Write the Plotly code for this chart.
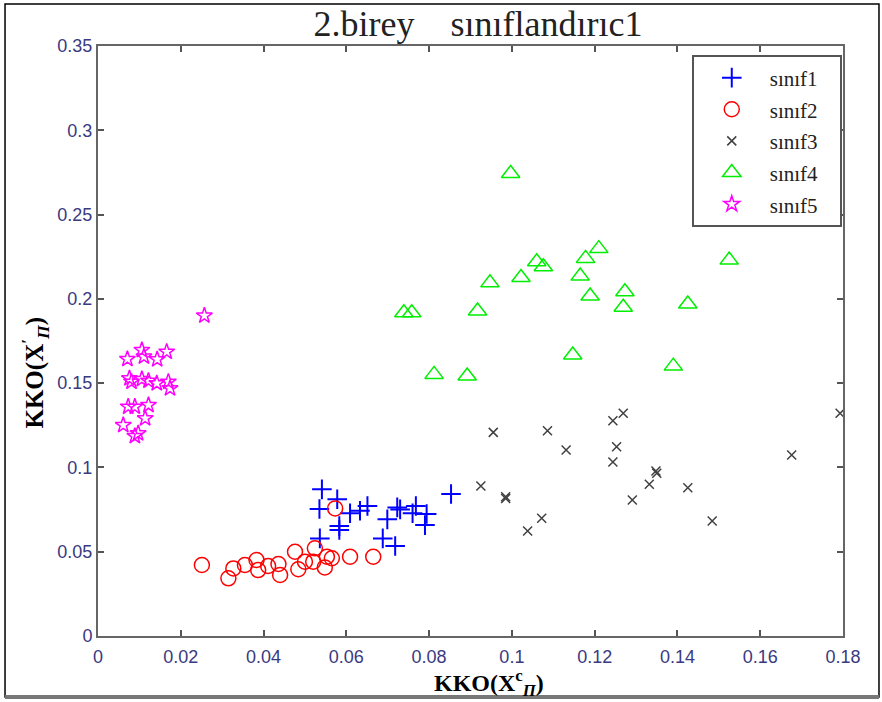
import plotly.graph_objects as go

# sınıf1 (blue +)
s1_x = [0.0541, 0.0578, 0.0535, 0.0609, 0.0633, 0.0651, 0.0583, 0.0583, 0.0536, 0.0699,
        0.0688, 0.0718, 0.0723, 0.0730, 0.0768, 0.0760, 0.0794, 0.0790, 0.0853]
s1_y = [0.0870, 0.0811, 0.0753, 0.0728, 0.0743, 0.0771, 0.0652, 0.0629, 0.0579, 0.0692,
        0.0579, 0.0534, 0.0763, 0.0751, 0.0771, 0.0728, 0.0724, 0.0658, 0.0842]

# sınıf2 (red o)
s2_x = [0.0251, 0.0315, 0.0327, 0.0355, 0.0383, 0.0387, 0.0411, 0.0436, 0.0440, 0.0476,
        0.0484, 0.0500, 0.0524, 0.0520, 0.0553, 0.0548, 0.0565, 0.0609, 0.0665, 0.0573]
s2_y = [0.0421, 0.0342, 0.0401, 0.0421, 0.0451, 0.0391, 0.0415, 0.0427, 0.0362, 0.0500,
        0.0396, 0.0441, 0.0520, 0.0441, 0.0470, 0.0407, 0.0461, 0.0470, 0.0470, 0.0757]

# sınıf3 (gray x)
s3_x = [0.0955, 0.1086, 0.1131, 0.1244, 0.1269, 0.1253, 0.1244, 0.1793, 0.1676, 0.1348,
        0.1350, 0.1332, 0.1425, 0.0925, 0.0985, 0.0985, 0.1291, 0.1072, 0.1038, 0.1484]
s3_y = [0.1208, 0.1218, 0.1103, 0.1277, 0.1321, 0.1123, 0.1032, 0.1321, 0.1074, 0.0979,
        0.0965, 0.0900, 0.0880, 0.0890, 0.0826, 0.0816, 0.0807, 0.0698, 0.0623, 0.0682]

# sınıf4 (green triangles)
s4_x = [0.0997, 0.0812, 0.0892, 0.0739, 0.0758, 0.0917, 0.0947, 0.1022, 0.1060, 0.1076,
        0.1165, 0.1178, 0.1210, 0.1189, 0.1273, 0.1269, 0.1147, 0.1425, 0.1390, 0.1525]
s4_y = [0.2744, 0.1552, 0.1542, 0.1918, 0.1918, 0.1928, 0.2095, 0.2127, 0.2220, 0.2190,
        0.2135, 0.2240, 0.2298, 0.2017, 0.2042, 0.1950, 0.1667, 0.1969, 0.1601, 0.2230]

# sınıf5 (magenta stars)
s5_x = [0.0257, 0.0071, 0.0106, 0.0111, 0.0143, 0.0166, 0.0076, 0.0081, 0.0106, 0.0122,
        0.0142, 0.0170, 0.0174, 0.0073, 0.0089, 0.0122, 0.0114, 0.0061, 0.0089, 0.0097]
s5_y = [0.1900, 0.1643, 0.1696, 0.1657, 0.1641, 0.1686, 0.1528, 0.1508, 0.1524, 0.1514,
        0.1499, 0.1508, 0.1469, 0.1360, 0.1360, 0.1370, 0.1291, 0.1251, 0.1186, 0.1202]

series = [
    ("sınıf1", s1_x, s1_y, "cross-thin-open", "#0000ff", 14, 2),
    ("sınıf2", s2_x, s2_y, "circle-open", "#ff0000", 15, 1.5),
    ("sınıf3", s3_x, s3_y, "x-thin-open", "#404040", 9, 1.5),
    ("sınıf4", s4_x, s4_y, "triangle-up-open", "#00ee00", 16, 1.5),
    ("sınıf5", s5_x, s5_y, "star-open", "#ff00ff", 12, 1.5),
]

fig = go.Figure()
for name, xs, ys, sym, col, size, lw in series:
    fig.add_trace(go.Scatter(
        x=xs, y=ys, mode="markers",
        name="<span style='font-size:21px'>" + name + "</span>\u00a0\u00a0\u00a0",
        marker=dict(symbol=sym, size=size, color=col, line=dict(color=col, width=lw)),
    ))

tickfont = dict(family="Liberation Sans", size=18, color="#3a3a80")
axis_common = dict(
    showgrid=False, zeroline=False, showline=True, linecolor="#666666", linewidth=2,
    mirror="ticks", ticks="inside", ticklen=6, tickcolor="#555555", tickwidth=1.5,
    tickfont=tickfont,
)
fig.update_xaxes(range=[0, 0.18], dtick=0.02, tick0=0, ticklabelstandoff=3, **axis_common)
fig.update_yaxes(range=[0, 0.35], dtick=0.05, tick0=0, **axis_common)

fig.update_layout(
    width=882, height=702,
    margin=dict(l=98, r=39, t=46, b=66),
    paper_bgcolor="white", plot_bgcolor="white",
    title=dict(text="2.birey\u00a0\u00a0\u00a0\u00a0sınıflandırıc1", x=0.542, xanchor="center",
               y=0.967, yanchor="middle",
               font=dict(family="Liberation Serif", size=36, color="#222222")),
    legend=dict(x=0.797, y=0.985, xanchor="left", yanchor="top",
                bgcolor="white", bordercolor="#555555", borderwidth=2,
                font=dict(family="Liberation Serif", size=22, color="#222222"),
                itemwidth=66, tracegroupgap=0),
    showlegend=True,
)

fig.add_annotation(text="<b>KKO(X<sup>c</sup><sub><i>Π</i></sub>)</b>", xref="paper", yref="paper",
                   x=0.525, y=-0.08, xanchor="center", yanchor="middle", showarrow=False,
                   font=dict(family="Liberation Serif", size=24, color="black"))
fig.add_annotation(text="<b>KKO(X<sup>′</sup><sub><i>Π</i></sub>)</b>", xref="paper", yref="paper",
                   x=-0.085, y=0.446, xanchor="center", yanchor="middle", showarrow=False,
                   textangle=-90,
                   font=dict(family="Liberation Serif", size=25, color="black"))

# outer figure frame
fig.add_shape(type="rect", xref="paper", yref="paper",
              x0=-0.1248, x1=1.0483, y0=-0.1034, y1=1.0712,
              line=dict(color="black", width=1.5), layer="below")
fig.add_shape(type="line", xref="paper", yref="paper",
              x0=-0.1248, x1=1.0483, y0=-0.1034, y1=-0.1034,
              line=dict(color="#777777", width=4))

fig.write_html("out.html")
